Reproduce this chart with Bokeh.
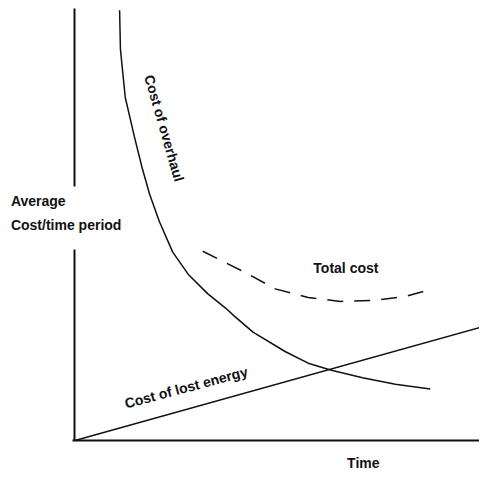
from bokeh.plotting import figure
from bokeh.models import Range1d, Label, LinearAxis
from bokeh.embed import file_html
from bokeh.resources import INLINE

# Data (arbitrary units: time 0..10, cost 0..10)
overhaul_x = [1.10, 1.12, 1.24, 1.46, 1.65, 1.84, 2.08, 2.41, 2.79, 3.27, 3.72,
              3.93, 4.39, 5.18, 5.75, 6.30, 7.09, 7.90, 8.76]
overhaul_y = [9.96, 9.06, 7.94, 7.05, 6.33, 5.70, 5.07, 4.36, 3.85, 3.40, 3.06,
              2.88, 2.51, 2.06, 1.79, 1.63, 1.45, 1.30, 1.19]

energy_x = [0.0, 10.0]
energy_y = [0.0, 2.62]

total_x = [3.15, 4.15, 4.94, 5.75, 6.54, 7.33, 8.14, 8.81]
total_y = [4.38, 3.91, 3.51, 3.31, 3.22, 3.24, 3.33, 3.51]

label_texts = ["Cost of overhaul", "Total cost", "Cost of lost energy",
               "Average", "Cost/time period", "Time"]

FONT = "Liberation Sans"
INK = "#111111"

p = figure(width=479, height=472, output_backend="svg", toolbar_location=None,
           x_range=Range1d(-1.837, 9.975), y_range=Range1d(-0.741, 10.185),
           x_axis_location=None, y_axis_location=None, min_border=0)
p.outline_line_color = None
p.grid.visible = False
p.background_fill_color = "white"
p.border_fill_color = "white"

xa = LinearAxis(fixed_location=0, bounds=(-0.07, 10.5))
ya_low = LinearAxis(fixed_location=0, bounds=(0, 4.43))
ya_high = LinearAxis(fixed_location=0, bounds=(5.88, 10.0))
for ax in (xa, ya_low, ya_high):
    ax.ticker = []
    ax.major_tick_line_color = None
    ax.minor_tick_line_color = None
    ax.major_tick_out = 0
    ax.major_tick_in = 0
    ax.major_label_standoff = 0
    ax.major_label_text_font_size = "0px"
    ax.axis_line_color = INK
    ax.axis_line_width = 2
p.add_layout(xa, "below")
p.add_layout(ya_low, "left")
p.add_layout(ya_high, "left")

p.line(overhaul_x, overhaul_y, line_color=INK, line_width=1.5, line_join="round")
p.line(energy_x, energy_y, line_color=INK, line_width=1.5)
p.line(total_x, total_y, line_color=INK, line_width=1.5, line_dash="16 11",
       line_join="round")

def lab(x, y, t, angle=0.0, align="center"):
    p.add_layout(Label(x=x, y=y, text=t, angle=angle, text_font=FONT,
                       text_font_style="bold", text_font_size="14px",
                       text_color=INK, text_align=align,
                       text_baseline="middle"))

lab(2.20, 7.23, label_texts[0], angle=-1.29)
lab(6.68, 4.00, label_texts[1])
lab(2.74, 1.23, label_texts[2], angle=0.26)
lab(-1.58, 5.55, label_texts[3], align="left")
lab(-1.58, 4.99, label_texts[4], align="left")
lab(7.11, -0.52, label_texts[5])

open("out.html", "w").write(file_html(p, INLINE))
